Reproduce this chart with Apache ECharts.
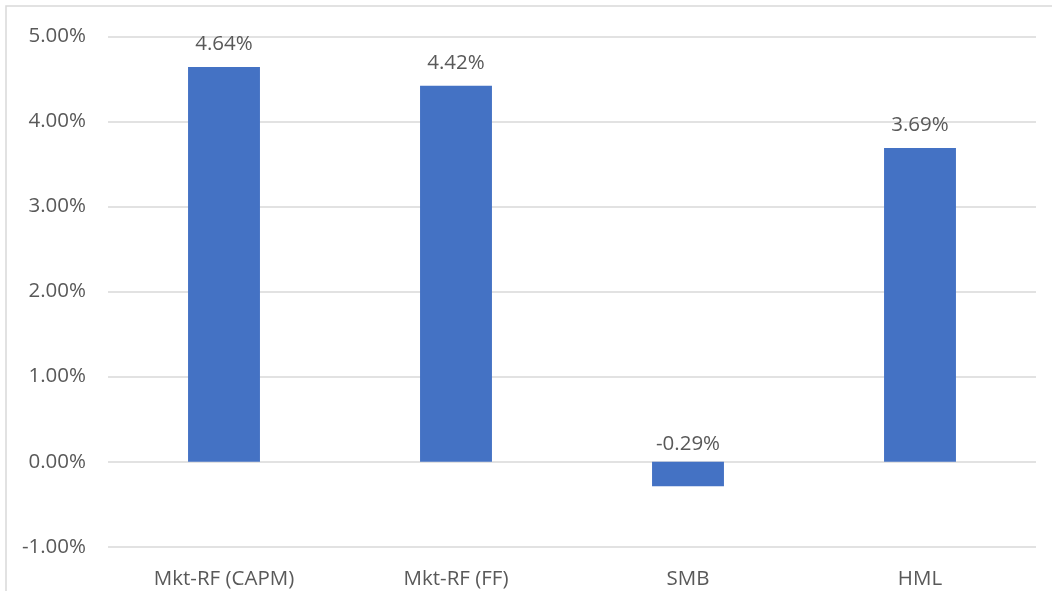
<!DOCTYPE html>
<html>
<head>
<meta charset="utf-8">
<script src="https://cdn.jsdelivr.net/npm/echarts@6/dist/echarts.min.js"></script>
<style>
  html, body { margin: 0; padding: 0; background: #ffffff; }
  #chart { width: 1052px; height: 591px; }
</style>
</head>
<body>
<div id="chart"></div>
<script>
// Factor premia (percent)
const categories = ['Mkt-RF (CAPM)', 'Mkt-RF (FF)', 'SMB', 'HML'];
const premia = [4.64, 4.42, -0.29, 3.69];
const yTicks = { min: -1, max: 5, step: 1 };

const textColor = '#595959';
const gridColor = '#d9d9d9';
const barColor = '#4472c4';
const fontFamily = '"Open Sans", "Noto Sans", sans-serif';
const fontSize = 20.5;

const barData = premia.map(v => ({
  value: v,
  label: v < 0 ? { position: 'top', distance: 7 } : { position: 'top', distance: 12 }
}));

const chart = echarts.init(document.getElementById('chart'), null, { renderer: 'canvas' });
chart.setOption({
  animation: false,
  backgroundColor: '#ffffff',
  graphic: [{
    type: 'rect',
    shape: { x: 6, y: 6, width: 1060, height: 600 },
    style: { fill: 'none', stroke: gridColor, lineWidth: 1.5 },
    silent: true,
    z: -1
  }],
  grid: { left: 108, right: 16, top: 36.5, bottom: 44.3, containLabel: false },
  xAxis: {
    type: 'category',
    data: categories,
    axisLine: { show: false },
    axisTick: { show: false },
    axisLabel: { color: textColor, fontSize: fontSize, fontFamily: fontFamily, margin: 22 }
  },
  yAxis: {
    type: 'value',
    min: yTicks.min,
    max: yTicks.max,
    interval: yTicks.step,
    axisLine: { show: false },
    axisTick: { show: false },
    splitLine: { lineStyle: { color: gridColor, width: 1.5 } },
    axisLabel: {
      color: textColor, fontSize: fontSize, fontFamily: fontFamily, margin: 22,
      formatter: v => v.toFixed(2) + '%'
    }
  },
  series: [{
    type: 'bar',
    data: barData,
    barWidth: '31%',
    itemStyle: { color: barColor },
    label: {
      show: true,
      color: textColor,
      fontSize: fontSize,
      fontFamily: fontFamily,
      formatter: p => p.value.toFixed(2) + '%'
    }
  }]
});
</script>
</body>
</html>
